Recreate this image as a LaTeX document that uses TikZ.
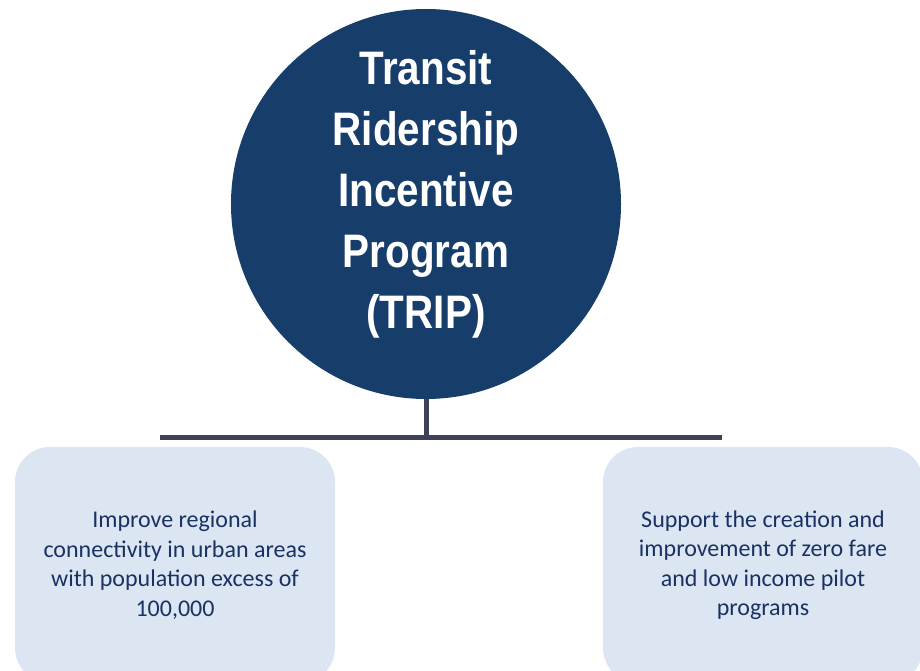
\documentclass[tikz,border=0pt]{standalone}
\usepackage{fontspec}
\setmainfont{Carlito}
\newfontfamily\titlefont[FakeStretch=0.86]{Liberation Sans}
\definecolor{hubblue}{HTML}{173E6B}
\definecolor{boxfill}{HTML}{DCE6F2}
\definecolor{boxtext}{HTML}{1A3263}
\definecolor{barcol}{HTML}{3E4257}
\begin{document}
\begin{tikzpicture}[x=1pt,y=-1pt,
  hubstyle/.style={circle, fill=hubblue, minimum size=390pt, inner sep=0pt},
  titlestyle/.style={text=white, align=center, inner sep=0pt,
    font=\titlefont\bfseries\fontsize{47}{61}\selectfont},
  goalbox/.style={rounded corners=35pt, fill=boxfill, text=boxtext, align=center,
    minimum width=320pt, minimum height=236pt, inner sep=0pt,
    font=\fontsize{24}{29.5}\selectfont},
  barline/.style={draw=barcol, line width=5pt}]
\useasboundingbox (0,0) rectangle (920,671);
\clip (0,0) rectangle (920,671);
\node[hubstyle] (hub) at (426,204) {};
\node[titlestyle] (title) at (426,194) {Transit\\Ridership\\Incentive\\Program\\(TRIP)};
\coordinate (barL) at (160,437);
\coordinate (barR) at (722,437);
\draw[barline] (hub.south) -- (hub.south |- barL);
\draw[barline] (barL) -- (barR);
\node[goalbox] (left) at (175,565) {Improve regional\\connectivity in urban areas\\with population excess of\\100,000};
\node[goalbox] (right) at (763,565) {Support the creation and\\improvement of zero fare\\and low income pilot\\programs};
\end{tikzpicture}
\end{document}
